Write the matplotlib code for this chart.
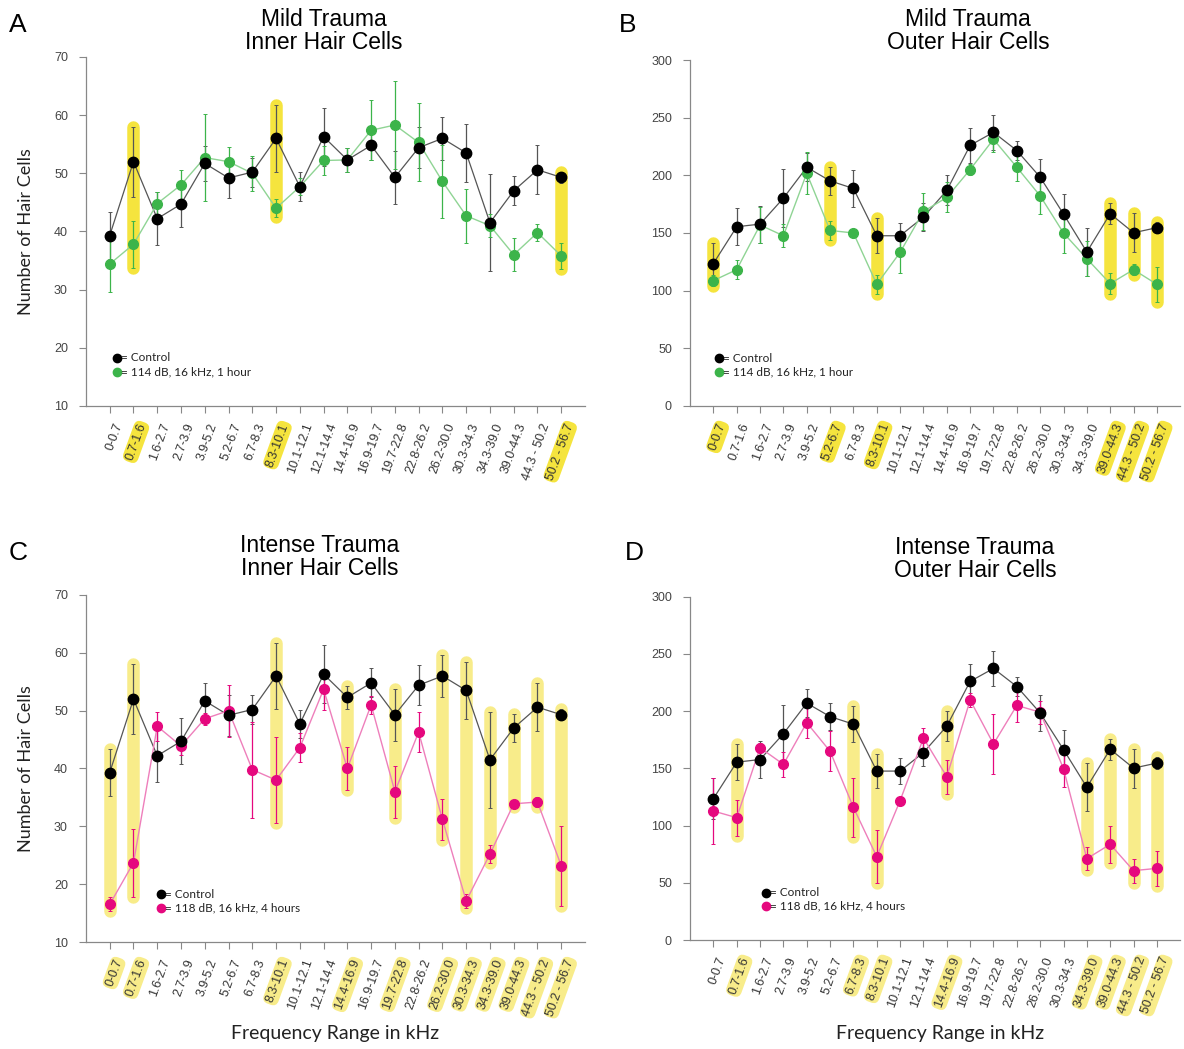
import numpy as np
import matplotlib
matplotlib.use('Agg')
import matplotlib.pyplot as plt

freq_labels = ['0-0.7', '0.7-1.6', '1.6-2.7', '2.7-3.9', '3.9-5.2', '5.2-6.7', '6.7-8.3',
               '8.3-10.1', '10.1-12.1', '12.1-14.4', '14.4-16.9', '16.9-19.7', '19.7-22.8',
               '22.8-26.2', '26.2-30.0', '30.3-34.3', '34.3-39.0', '39.0-44.3', '44.3 - 50.2',
               '50.2 - 56.7']

# inner hair cells, control
ihc_ctrl = [39.3, 52.0, 42.2, 44.7, 51.7, 49.2, 50.2, 56.0, 47.7, 56.3,
            52.3, 54.8, 49.3, 54.4, 56.0, 53.5, 41.5, 47.0, 50.6, 49.3]
ihc_ctrl_err = [4.0, 6.0, 4.5, 4.0, 3.0, 3.5, 2.5, 5.7, 2.5, 5.0,
                2.0, 2.5, 4.5, 3.5, 3.7, 5.0, 8.3, 2.5, 4.2, 1.0]
# inner hair cells, 114 dB 1 hour
ihc_mild = [34.4, 37.8, 44.8, 48.0, 52.7, 52.0, 50.0, 44.0, 47.7, 52.2,
            52.3, 57.4, 58.3, 55.3, 48.6, 42.7, 41.0, 36.0, 39.8, 35.8]
ihc_mild_err = [4.8, 4.0, 2.0, 2.5, 7.5, 2.5, 3.0, 1.5, 1.5, 2.5,
                2.0, 5.2, 7.6, 6.7, 6.3, 4.6, 2.0, 2.8, 1.5, 2.3]
# inner hair cells, 118 dB 4 hours
ihc_int = [16.5, 23.7, 47.3, 43.9, 48.6, 50.0, 39.8, 38.0, 43.6, 53.7,
           40.0, 51.0, 36.0, 46.3, 31.2, 17.1, 25.2, 33.9, 34.2, 23.2]
ihc_int_err = [1.2, 5.9, 2.5, 1.5, 1.0, 4.5, 8.3, 7.5, 2.5, 3.5,
               3.8, 1.5, 4.5, 3.5, 3.5, 1.2, 1.5, 0.5, 0.8, 6.9]

# outer hair cells, control
ohc_ctrl = [123.5, 155.4, 157.7, 180.2, 207.0, 195.2, 188.6, 147.6, 147.6, 163.8,
            186.9, 226.0, 237.3, 221.5, 198.4, 166.4, 133.5, 166.7, 150.2, 154.6]
ohc_ctrl_err = [18, 16, 16, 25, 12, 12, 16, 15, 11, 12,
                13, 15, 15, 8, 16, 17, 21, 9, 17, 5]
# outer hair cells, 114 dB 1 hour
ohc_mild = [108.7, 118.2, 156.9, 147.6, 201.8, 152.2, 150.0, 105.5, 133.2, 168.7,
            180.8, 205.0, 231.3, 207.0, 182.2, 150.0, 127.7, 106.1, 118.2, 105.5]
ohc_mild_err = [5, 8, 16, 10, 18, 8, 2, 8, 18, 16,
                13, 5, 11, 12, 16, 17, 15, 9, 5, 15]
# outer hair cells, 118 dB 4 hours
ohc_int = [112.7, 106.9, 168.0, 153.5, 189.9, 164.9, 115.9, 72.8, 121.8, 176.5,
           142.7, 209.7, 171.3, 205.0, 199.0, 149.7, 71.1, 83.6, 60.6, 62.6]
ohc_int_err = [29, 15.7, 4, 11, 13.5, 17.5, 25.8, 22.9, 3, 9,
               14.8, 6, 26, 14.6, 10, 16, 10, 16, 10.5, 15.6]

# significant bins per panel
sig_a = [1, 7, 19]
sig_b = [0, 5, 7, 17, 18, 19]
sig_c = [0, 1, 7, 10, 12, 14, 15, 16, 17, 18, 19]
sig_d = [1, 6, 7, 10, 16, 17, 18, 19]

GREEN = '#3cb44a'
GREEN_LINE = '#8fd494'
PINK = '#e5087e'
PINK_LINE = '#ee7fbb'

plt.rcParams['font.family'] = ['Liberation Sans', 'DejaVu Sans']

fig = plt.figure(figsize=(11.84, 10.49), dpi=100)


def panel(rect, ctrl, ctrl_err, trt, trt_err, col, line_col, sig, yl, yticks,
          yellow, label, leg_x, show_ylabel=False):
    ax = fig.add_axes(rect)
    x = np.arange(len(freq_labels))
    c = np.array(ctrl)
    ce = np.array(ctrl_err)
    t = np.array(trt)
    te = np.array(trt_err)
    for i in sig:
        lo = min(c[i] - ce[i], t[i] - te[i])
        hi = max(c[i] + ce[i], t[i] + te[i])
        ax.plot([x[i], x[i]], [lo, hi], color=yellow, lw=9,
                solid_capstyle='round', zorder=1)
    ax.errorbar(x, c, yerr=ce, color='#555555', lw=0.9, ecolor='#555555',
                elinewidth=0.9, capsize=1.5, capthick=0.7, zorder=2)
    ax.errorbar(x, t, yerr=te, color=line_col, lw=1.0, ecolor=col,
                elinewidth=0.9, capsize=1.5, capthick=0.7, zorder=2)
    ax.plot(x, c, 'o', color='black', ms=7.5, zorder=4)
    ax.plot(x, t, 'o', color=col, ms=7, zorder=3)

    ax.set_xlim(-1, 20)
    ax.set_ylim(*yl)
    ax.set_yticks(yticks)
    ax.set_xticks(x)
    ax.set_xticklabels([])
    for i, lab in enumerate(freq_labels):
        bb = None
        if i in sig:
            bb = dict(boxstyle='round,pad=0.15,rounding_size=0.5', fc=yellow, ec='none')
        ax.text(x[i] + 0.15, yl[0] - (yl[1] - yl[0]) * 0.045, lab, rotation=70,
                ha='right', va='top', rotation_mode='anchor', fontsize=9,
                color='#333333', bbox=bb)
    for s in ['top', 'right']:
        ax.spines[s].set_visible(False)
    for s in ['left', 'bottom']:
        ax.spines[s].set_color('#888888')
        ax.spines[s].set_linewidth(0.9)
    ax.tick_params(axis='both', direction='out', color='#888888', length=5,
                   width=0.8, labelsize=9, labelcolor='#444444', pad=8)
    ax.tick_params(axis='x', pad=2)

    ax.plot(leg_x, 0.138, 'o', color='black', ms=6, transform=ax.transAxes,
            clip_on=False)
    ax.text(leg_x + 0.009, 0.138, '= Control', transform=ax.transAxes, va='center',
            fontsize=8.5, color='#222222', family=['Lato', 'DejaVu Sans'])
    ax.plot(leg_x, 0.098, 'o', color=col, ms=6, transform=ax.transAxes,
            clip_on=False)
    ax.text(leg_x + 0.009, 0.098, label, transform=ax.transAxes, va='center',
            fontsize=8.5, color='#222222', family=['Lato', 'DejaVu Sans'])
    if show_ylabel:
        ax.set_ylabel('Number of Hair Cells', fontsize=13,
                      family=['Lato', 'DejaVu Sans'], color='#222222', labelpad=14)
    return ax


YEL1 = '#f5e43e'
YEL2 = '#f8ec8a'

axA = panel([0.0726, 0.613, 0.4215, 0.3327], ihc_ctrl, ihc_ctrl_err, ihc_mild, ihc_mild_err,
            GREEN, GREEN_LINE, sig_a, (10, 70), range(10, 71, 10), YEL1,
            '= 114 dB, 16 kHz, 1 hour', 0.062, show_ylabel=True)
axB = panel([0.5828, 0.613, 0.414, 0.3298], ohc_ctrl, ohc_ctrl_err, ohc_mild, ohc_mild_err,
            GREEN, GREEN_LINE, sig_b, (0, 300), range(0, 301, 50), YEL1,
            '= 114 dB, 16 kHz, 1 hour', 0.059)
axC = panel([0.0726, 0.102, 0.4215, 0.3308], ihc_ctrl, ihc_ctrl_err, ihc_int, ihc_int_err,
            PINK, PINK_LINE, sig_c, (10, 70), range(10, 71, 10), YEL2,
            '= 118 dB, 16 kHz, 4 hours', 0.15, show_ylabel=True)
axD = panel([0.5828, 0.1039, 0.414, 0.3273], ohc_ctrl, ohc_ctrl_err, ohc_int, ohc_int_err,
            PINK, PINK_LINE, sig_d, (0, 300), range(0, 301, 50), YEL2,
            '= 118 dB, 16 kHz, 4 hours', 0.155)

fig.text(324 / 1184, 1 - 31 / 1049, 'Mild Trauma\nInner Hair Cells', ha='center',
         va='center', fontsize=16.5, linespacing=1.05)
fig.text(968 / 1184, 1 - 31 / 1049, 'Mild Trauma\nOuter Hair Cells', ha='center',
         va='center', fontsize=16.5, linespacing=1.05)
fig.text(320 / 1184, 1 - 557 / 1049, 'Intense Trauma\nInner Hair Cells', ha='center',
         va='center', fontsize=16.5, linespacing=1.05)
fig.text(975 / 1184, 1 - 559 / 1049, 'Intense Trauma\nOuter Hair Cells', ha='center',
         va='center', fontsize=16.5, linespacing=1.05)
for lab, px, py in [('A', 18, 25), ('B', 628, 25), ('C', 18, 553), ('D', 634, 553)]:
    fig.text(px / 1184, 1 - py / 1049, lab, ha='center', va='center', fontsize=19)
for px in [335, 940]:
    fig.text(px / 1184, 1 - 1033 / 1049, 'Frequency Range in kHz', ha='center',
             va='center', fontsize=14, family=['Lato', 'DejaVu Sans'], color='#222222')

fig.savefig('out.png', dpi=100)
